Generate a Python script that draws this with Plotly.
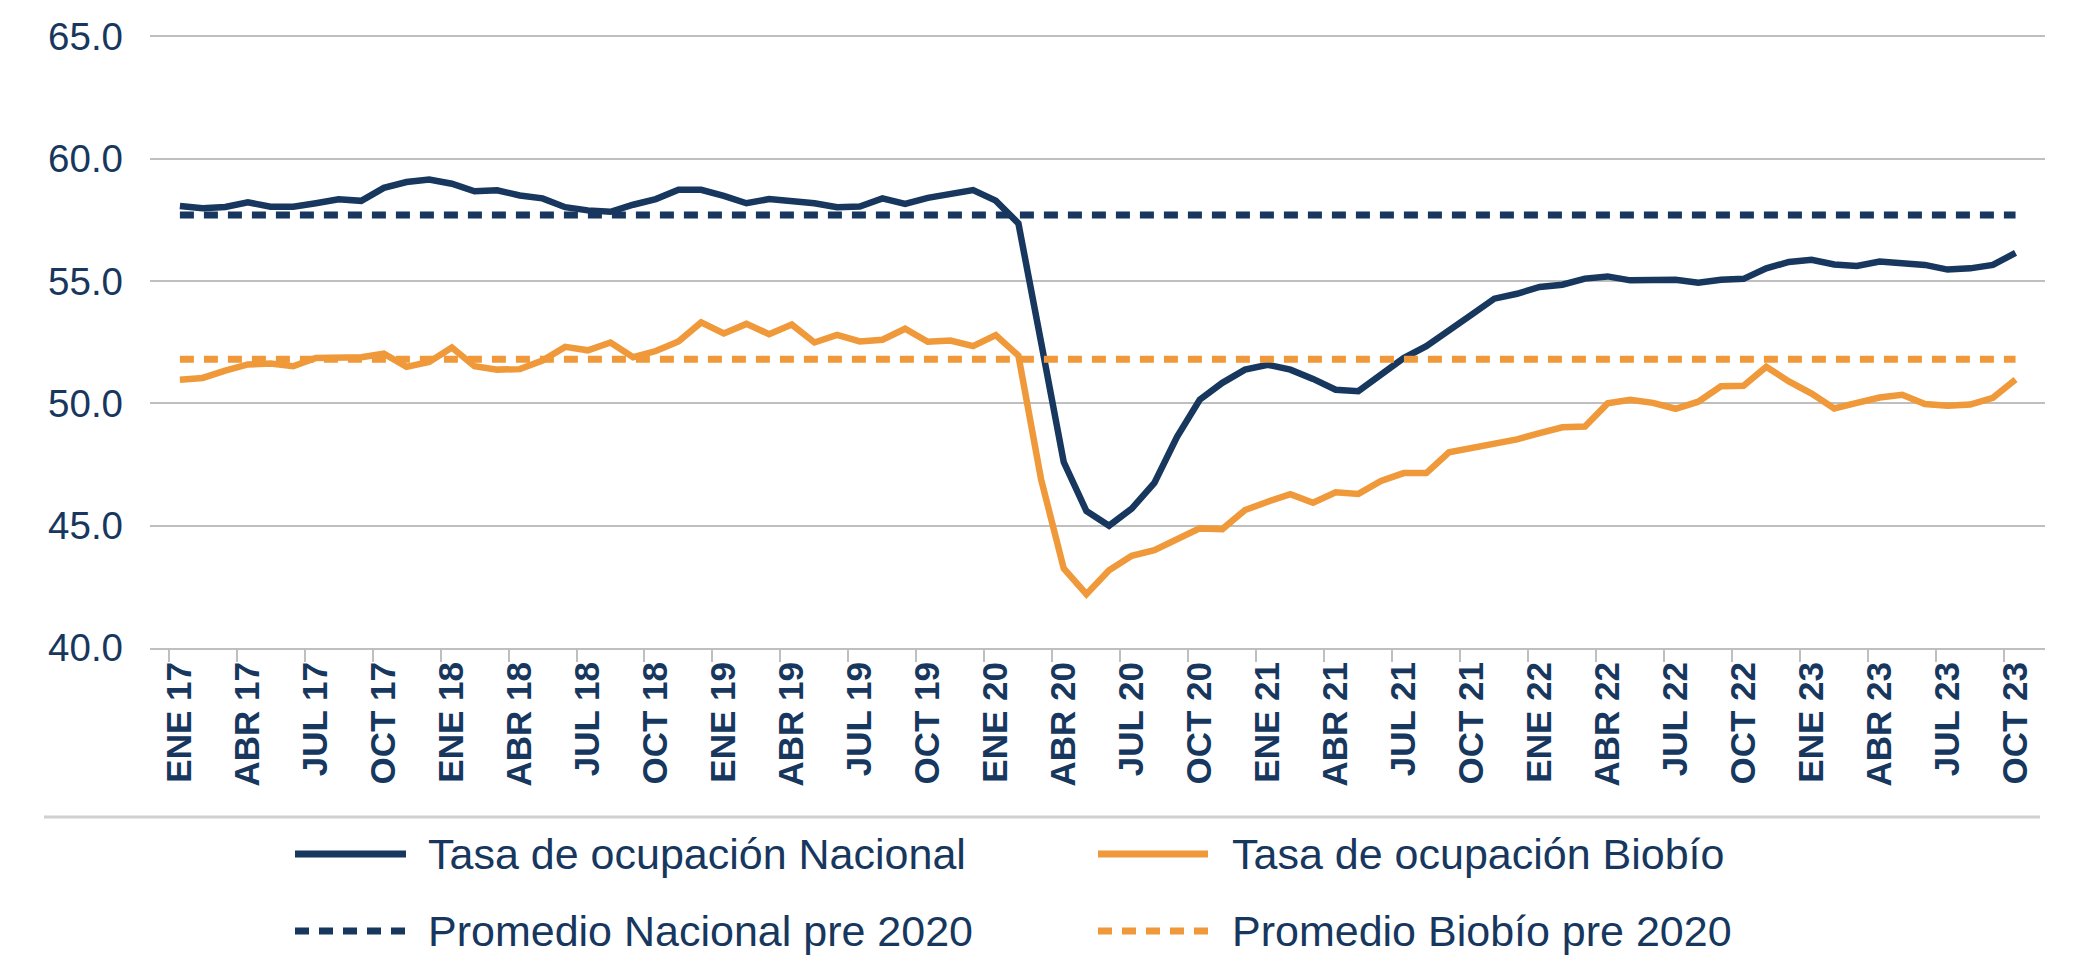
import plotly.graph_objects as go

# ---------------- data ----------------
meses = [
    "ENE 17", "FEB 17", "MAR 17", "ABR 17", "MAY 17", "JUN 17", "JUL 17", "AGO 17", "SEP 17", "OCT 17", "NOV 17", "DIC 17",
    "ENE 18", "FEB 18", "MAR 18", "ABR 18", "MAY 18", "JUN 18", "JUL 18", "AGO 18", "SEP 18", "OCT 18", "NOV 18", "DIC 18",
    "ENE 19", "FEB 19", "MAR 19", "ABR 19", "MAY 19", "JUN 19", "JUL 19", "AGO 19", "SEP 19", "OCT 19", "NOV 19", "DIC 19",
    "ENE 20", "FEB 20", "MAR 20", "ABR 20", "MAY 20", "JUN 20", "JUL 20", "AGO 20", "SEP 20", "OCT 20", "NOV 20", "DIC 20",
    "ENE 21", "FEB 21", "MAR 21", "ABR 21", "MAY 21", "JUN 21", "JUL 21", "AGO 21", "SEP 21", "OCT 21", "NOV 21", "DIC 21",
    "ENE 22", "FEB 22", "MAR 22", "ABR 22", "MAY 22", "JUN 22", "JUL 22", "AGO 22", "SEP 22", "OCT 22", "NOV 22", "DIC 22",
    "ENE 23", "FEB 23", "MAR 23", "ABR 23", "MAY 23", "JUN 23", "JUL 23", "AGO 23", "SEP 23", "OCT 23",
]

tasa_nacional = [
    58.07, 57.98, 58.03, 58.22, 58.04, 58.04, 58.18, 58.34, 58.28, 58.81, 59.05, 59.15,
    58.98, 58.67, 58.71, 58.50, 58.38, 58.02, 57.89, 57.83, 58.12, 58.35, 58.73, 58.73,
    58.48, 58.18, 58.35, 58.29, 58.18, 58.02, 58.05, 58.38, 58.15, 58.40, 58.59, 58.72,
    58.29, 57.36, 52.50, 47.60, 45.60, 45.00, 45.70, 46.75, 48.63, 50.15, 50.84, 51.38,
    51.58, 51.38, 51.00, 50.56, 50.50, 51.18, 51.85, 52.34, 53.02, 53.63, 54.28, 54.48,
    54.76, 54.85, 55.10, 55.19, 55.03, 55.04, 55.05, 54.93, 55.05, 55.09, 55.52, 55.78,
    55.87, 55.68, 55.62, 55.80, 55.76, 55.66, 55.47, 55.52, 55.66, 56.15,
]

tasa_biobio = [
    50.97, 51.04, 51.34, 51.59, 51.63, 51.52, 51.86, 51.86, 51.89, 52.03, 51.49, 51.69,
    52.28, 51.52, 51.38, 51.40, 51.75, 52.31, 52.17, 52.49, 51.89, 52.14, 52.53, 53.31,
    52.86, 53.25, 52.83, 53.22, 52.49, 52.80, 52.53, 52.60, 53.05, 52.52, 52.57, 52.34,
    52.79, 51.95, 46.90, 43.25, 42.20, 43.18, 43.77, 44.00, 44.45, 44.89, 44.86, 45.64,
    45.98, 46.29, 45.94, 46.37, 46.30, 46.83, 47.15, 47.15, 48.00, 48.18, 48.39, 48.53,
    48.78, 49.02, 49.05, 50.00, 50.15, 50.02, 49.78, 50.07, 50.70, 50.72, 51.50, 50.90,
    50.40, 49.79, 50.02, 50.24, 50.35, 49.97, 49.90, 49.95, 50.23, 50.98,
]

promedio_nacional_pre2020 = 57.7
promedio_biobio_pre2020 = 51.8

y_ticks = [40, 45, 50, 55, 60, 65]

series_names = [
    "Tasa de ocupación Nacional",
    "Tasa de ocupación Biobío",
    "Promedio Nacional pre 2020",
    "Promedio Biobío pre 2020",
]

# ---------------- style ----------------
NAVY = "#17375E"
ORANGE = "#F0993A"
GRID = "#BFBFBF"
DOT = "14px,10px"
FONT = "Arial, Liberation Sans, sans-serif"

OFF = 8                      # page body margin
W, H = 2085 - OFF, 961 - OFF  # figure size
L, R, T, B = 142, 40, 26, 313

pos = list(range(len(meses)))

fig = go.Figure()
fig.add_trace(go.Scatter(x=pos, y=tasa_nacional, mode="lines", name=series_names[0],
                         line=dict(color=NAVY, width=6.5)))
fig.add_trace(go.Scatter(x=pos, y=tasa_biobio, mode="lines", name=series_names[1],
                         line=dict(color=ORANGE, width=6.5)))
fig.add_trace(go.Scatter(x=pos, y=[promedio_nacional_pre2020] * len(pos), mode="lines",
                         name=series_names[2], line=dict(color=NAVY, width=7, dash=DOT)))
fig.add_trace(go.Scatter(x=pos, y=[promedio_biobio_pre2020] * len(pos), mode="lines",
                         name=series_names[3], line=dict(color=ORANGE, width=7, dash=DOT)))

fig.update_layout(
    width=W, height=H,
    margin=dict(l=L, r=R, t=T, b=B, autoexpand=False),
    plot_bgcolor="white", paper_bgcolor="white",
    showlegend=False,
    font=dict(family=FONT, color=NAVY),
)

fig.update_xaxes(
    range=[-1.32, 82.3],
    tickmode="array",
    tickvals=pos[::3],
    ticktext=meses[::3],
    tickangle=-90,
    tickfont=dict(size=35, color=NAVY, family=FONT, weight="bold"),
    ticks="outside", ticklen=12, tickcolor="rgba(0,0,0,0)",
    ticklabelstandoff=-14,
    showgrid=False, zeroline=False,
    showline=True, linecolor=GRID, linewidth=2,
    minor=dict(ticks="outside", ticklen=12, tickwidth=2, tickcolor=GRID,
               tick0=-0.5, dtick=3, showgrid=False),
)

fig.update_yaxes(
    range=[40, 65.1],
    tickmode="array",
    tickvals=y_ticks,
    tickformat=".1f",
    tickfont=dict(size=38.5, color=NAVY, family=FONT),
    showgrid=True, gridcolor=GRID, gridwidth=2,
    zeroline=False, showline=False, ticks="",
    ticklabelstandoff=26,
)

# ---------------- legend (drawn below the chart) ----------------
def px_x(px):
    return (px - OFF - L) / (W - L - R)


def px_y(py):
    return (H - B - (py - OFF)) / (H - T - B)


legend_items = [
    (series_names[0], NAVY, "solid", 295, 406, 426, 854),
    (series_names[1], ORANGE, "solid", 1098, 1208, 1230, 854),
    (series_names[2], NAVY, DOT, 295, 406, 426, 931),
    (series_names[3], ORANGE, DOT, 1098, 1208, 1230, 931),
]

shapes = [
    dict(type="line", xref="paper", yref="paper",
         x0=px_x(44), x1=px_x(2040), y0=px_y(817), y1=px_y(817),
         line=dict(color="#D0D0D0", width=3)),
]
annotations = []
for name, color, dash, sx0, sx1, tx, ty in legend_items:
    shapes.append(dict(type="line", xref="paper", yref="paper",
                       x0=px_x(sx0), x1=px_x(sx1), y0=px_y(ty), y1=px_y(ty),
                       line=dict(color=color, width=7, dash=dash)))
    annotations.append(dict(text=name, xref="paper", yref="paper",
                            x=px_x(tx), y=px_y(ty), xanchor="left", yanchor="middle",
                            showarrow=False, font=dict(size=43, color=NAVY, family=FONT)))

fig.update_layout(shapes=shapes, annotations=annotations)

fig.write_html("out.html")
